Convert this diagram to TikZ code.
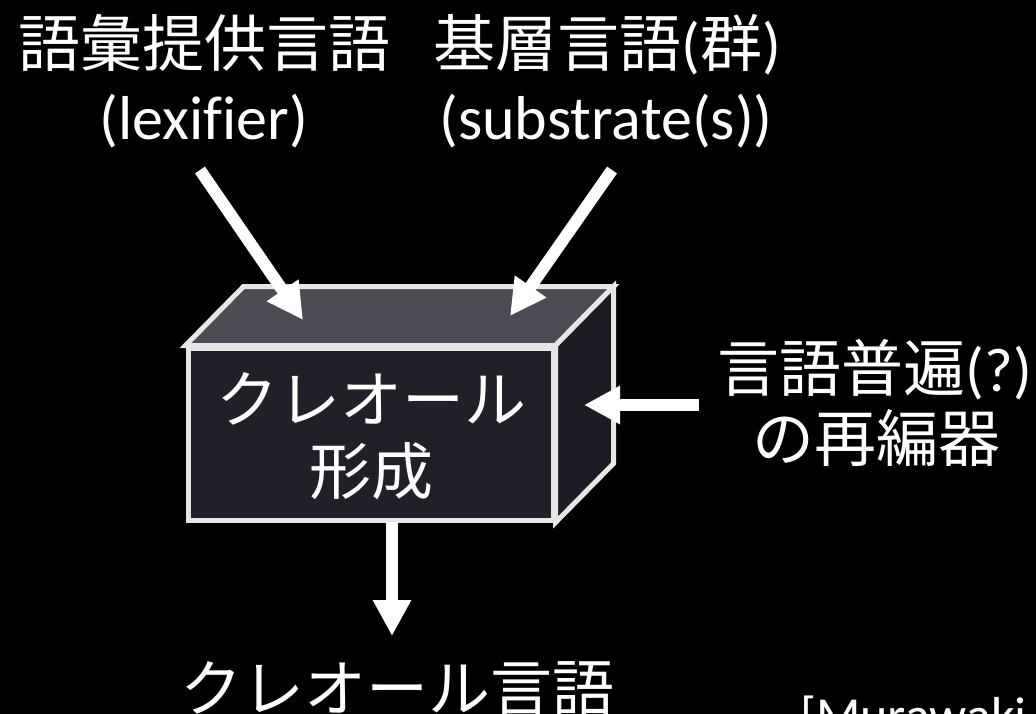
\documentclass[tikz,border=0pt]{standalone}
\usepackage{fontspec}
\setmainfont{Carlito}[Ligatures=NoCommon]
\newfontfamily\jp{Noto Sans CJK JP}
\usetikzlibrary{arrows.meta}
\definecolor{boxline}{HTML}{E6E6E6}
\definecolor{topfill}{HTML}{4C4C54}
\definecolor{frontfill}{HTML}{202029}
\definecolor{sidefill}{HTML}{1C1C24}
\begin{document}
\begin{tikzpicture}[x=1pt,y=-1pt,
  lbl/.style={text=white,font=\fontsize{62}{72}\selectfont,inner sep=0pt,anchor=base},
  cite/.style={text=white,font=\fontsize{52}{60}\selectfont,inner sep=0pt,anchor=base west},
  fat/.style={draw=white,line width=12pt,-{Triangle[width=36pt,length=36pt]}},
  edgeline/.style={draw=boxline,line width=5pt,line join=miter}]
\fill[black] (0,0) rectangle (1036,714);
\useasboundingbox (0,0) rectangle (1036,714);
\clip (0,0) rectangle (1036,714);
% labels
\node[lbl] (lexA) at (204,67) {\jp 語彙提供言語};
\node[lbl] (lexB) at (204,140) {(lexifier)};
\node[lbl] (subA) at (607,67) {\jp 基層言語\rm(\jp 群\rm)};
\node[lbl] (subB) at (606,140) {(substrate(s))};
\node[lbl] (uniA) at (875,391) {\jp 言語普遍\rm(?)};
\node[lbl] (uniB) at (876,461) {\jp の再編器};
\node[lbl] (out) at (397,711) {\jp クレオール言語};
\node[cite] (cite) at (800,733) {[Murawaki};
% box
\node[edgeline,fill=frontfill,minimum width=365pt,minimum height=172pt,inner sep=0pt] (box) at (370.5,434) {};
\coordinate (btl) at ([shift={(58,-59)}]box.north west);
\coordinate (btr) at ([shift={(58,-59)}]box.north east);
\coordinate (bbr) at ([shift={(58,-59)}]box.south east);
\filldraw[edgeline,fill=topfill] (box.north west) -- (btl) -- (btr) -- (box.north east) -- cycle;
\filldraw[edgeline,fill=sidefill] (box.north east) -- (btr) -- (bbr) -- (box.south east) -- cycle;
\node[lbl] (boxA) at (371,422) {\jp クレオール};
\node[lbl] (boxB) at (371,494) {\jp 形成};
% arrows
\coordinate (lexS) at (200,170);
\coordinate (lexE) at (303,320);
\coordinate (subS) at (612,170);
\coordinate (subE) at (510,316);
\coordinate (uniS) at (699,405);
\coordinate (uniE) at (584,405);
\coordinate (outS) at (392,522);
\coordinate (outE) at (392,636);
\draw[fat] (lexS) -- (lexE);
\draw[fat] (subS) -- (subE);
\draw[fat] (uniS) -- (uniE);
\draw[fat] (outS) -- (outE);
\end{tikzpicture}
\end{document}
